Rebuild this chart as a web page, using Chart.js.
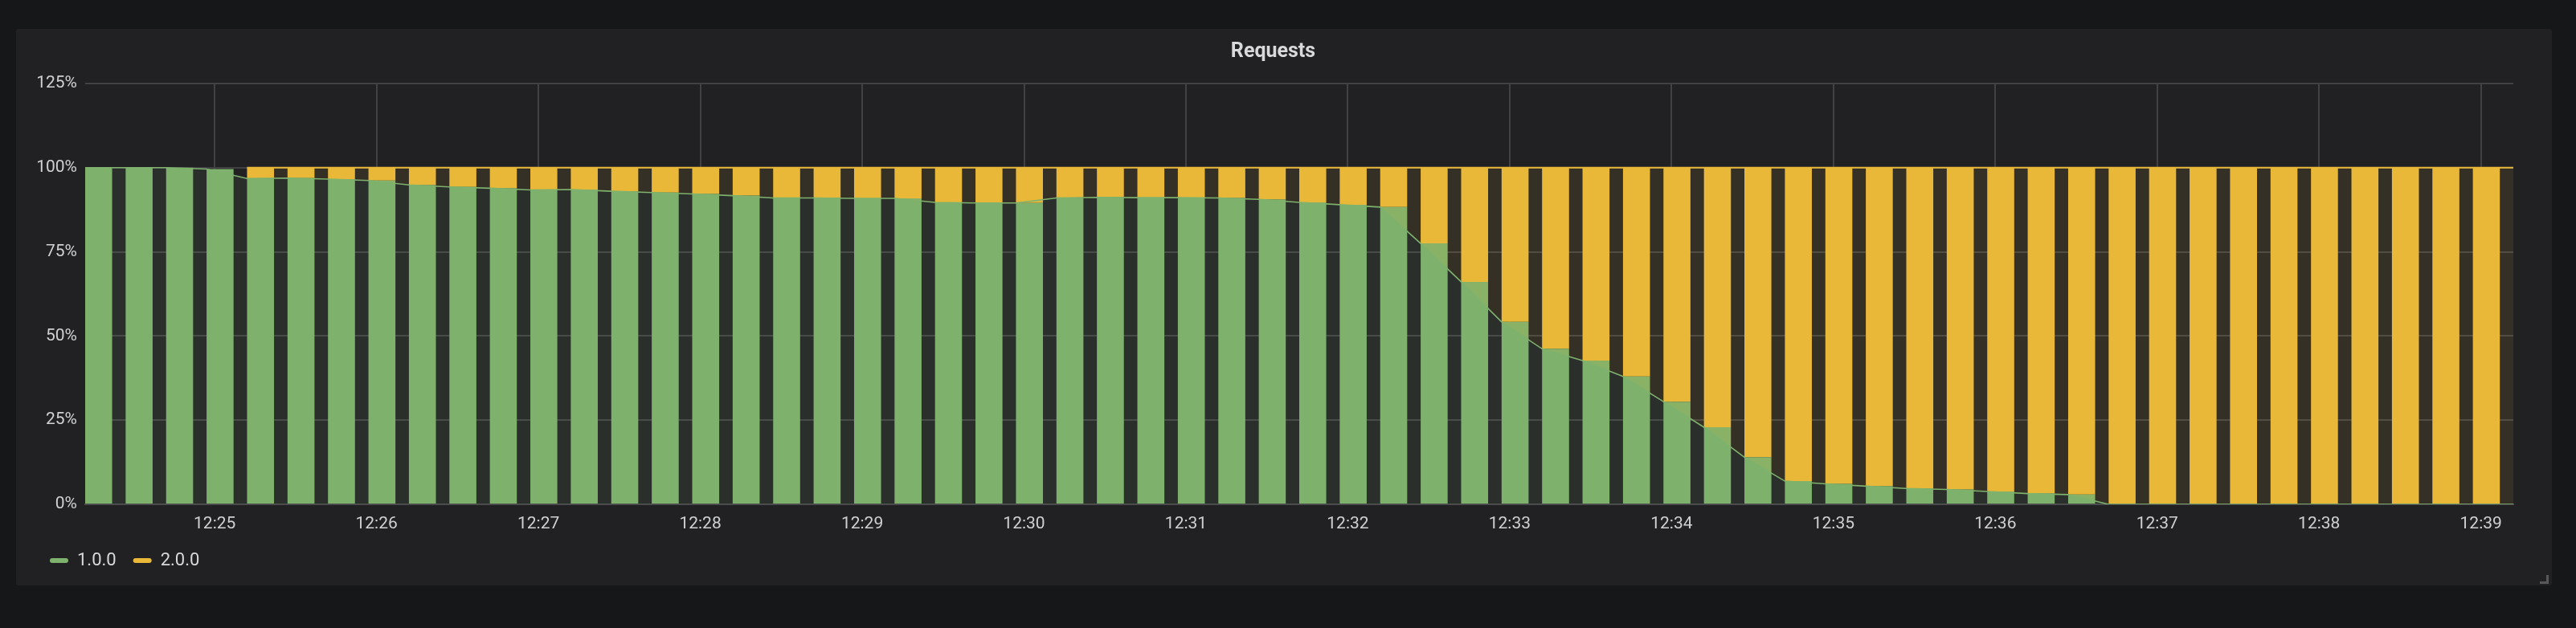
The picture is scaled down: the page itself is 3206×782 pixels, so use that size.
<!DOCTYPE html>
<html><head><meta charset="utf-8">
<script src="https://cdn.jsdelivr.net/npm/chart.js@4/dist/chart.umd.min.js"></script>
<style>
html,body{margin:0;padding:0;background:#161719;width:3206px;height:782px;overflow:hidden;}
#panel{position:absolute;left:20px;top:36px;width:3156px;height:693px;background:#212124;border-radius:3px;}
#wrap{position:absolute;left:0;top:0;width:3156px;height:693px;}
#corner{position:absolute;right:4px;bottom:2px;width:8px;height:8px;border-right:3px solid #58585a;border-bottom:3px solid #58585a;}
</style></head><body>
<div id="panel"><div id="wrap"><canvas id="c"></canvas></div><div id="corner"></div></div>
<script>
// ---- data ----
const times = [
 '12:24:12','12:24:27','12:24:42','12:24:57',
 '12:25:12','12:25:27','12:25:42','12:25:57',
 '12:26:12','12:26:27','12:26:42','12:26:57',
 '12:27:12','12:27:27','12:27:42','12:27:57',
 '12:28:12','12:28:27','12:28:42','12:28:57',
 '12:29:12','12:29:27','12:29:42','12:29:57',
 '12:30:12','12:30:27','12:30:42','12:30:57',
 '12:31:12','12:31:27','12:31:42','12:31:57',
 '12:32:12','12:32:27','12:32:42','12:32:57',
 '12:33:12','12:33:27','12:33:42','12:33:57',
 '12:34:12','12:34:27','12:34:42','12:34:57',
 '12:35:12','12:35:27','12:35:42','12:35:57',
 '12:36:12','12:36:27','12:36:42','12:36:57',
 '12:37:12','12:37:27','12:37:42','12:37:57',
 '12:38:12','12:38:27','12:38:42','12:38:57',
 '12:39:12'
];
const v100 = [
 100,100,100,99.6,96.8,96.9,96.6,96.2,94.9,94.3,
 93.9,93.4,93.5,93.0,92.6,92.2,91.7,91.0,91.0,90.9,
 90.9,89.7,89.5,89.5,91.0,91.2,91.1,91.1,91.0,90.6,
 89.7,89.0,88.3,77.5,66.1,54.2,46.2,42.7,38.0,30.5,
 22.9,14.0,6.9,6.1,5.4,4.7,4.4,3.8,3.2,2.9,
 0,0,0,0,0,0,0,0,0,0,0
];
const v200 = [
 null,null,null,null,3.2,3.1,3.4,3.8,5.1,5.7,
 6.1,6.6,6.5,7.0,7.4,7.8,8.3,9.0,9.0,9.1,
 9.1,10.3,10.5,10.5,9.0,8.8,8.9,8.9,9.0,9.4,
 10.3,11.0,11.7,22.5,33.9,45.8,53.8,57.3,62.0,69.5,
 77.1,86.0,93.1,93.9,94.6,95.3,95.6,96.2,96.8,97.1,
 100,100,100,100,100,100,100,100,100,100,100
];
const seriesNames = ['1.0.0', '2.0.0'];
const xTickLabels = ['12:25','12:26','12:27','12:28','12:29','12:30','12:31','12:32','12:33','12:34','12:35','12:36','12:37','12:38','12:39'];
const yTickValues = [0, 25, 50, 75, 100, 125];

// ---- helpers ----
const toSec = s => { const p = s.split(':').map(Number); return p[0]*3600 + p[1]*60 + (p[2]||0); };
const xs = times.map(toSec);
const pts = arr => arr.map((v, i) => ({x: xs[i], y: v}));
const green = '#7eb26d', yellow = '#eab839';
const greenFill = 'rgba(126,178,109,0.1)', yellowFill = 'rgba(234,184,57,0.1)';
const gridColor = '#414144';

Chart.defaults.font.family = 'Roboto, "Noto Sans", sans-serif';

const leftAlignBars = {
  id: 'leftAlignBars',
  afterDatasetsUpdate(chart) {
    chart.data.datasets.forEach((ds, i) => {
      if (ds.type !== 'bar') return;
      chart.getDatasetMeta(i).data.forEach(el => { el.x += el.width / 2; });
    });
  }
};

new Chart(document.getElementById('c'), {
  type: 'line',
  data: {
    datasets: [
      { type: 'line', label: seriesNames[0] + ' line', data: pts(v100), stack: 'lines', order: 0,
        borderColor: green, borderWidth: 1.6, backgroundColor: greenFill, fill: 'origin',
        pointRadius: 0, tension: 0, spanGaps: false },
      { type: 'line', label: seriesNames[1] + ' line', data: pts(v200), stack: 'lines', order: 0,
        borderColor: yellow, borderWidth: 2, backgroundColor: yellowFill, fill: '-1',
        pointRadius: 0, tension: 0, spanGaps: false },
      { type: 'bar', label: seriesNames[0], data: pts(v100), stack: 'bars', order: 1,
        backgroundColor: green, borderColor: green, borderWidth: 0, grouped: false,
        categoryPercentage: 1, barPercentage: 2/3, clip: 0 },
      { type: 'bar', label: seriesNames[1], data: pts(v200), stack: 'bars', order: 1,
        backgroundColor: yellow, borderColor: yellow, borderWidth: 0, grouped: false,
        categoryPercentage: 1, barPercentage: 2/3, clip: 0 }
    ]
  },
  options: {
    responsive: true,
    maintainAspectRatio: false,
    animation: false,
    layout: { padding: { left: 21, right: 48, top: 0, bottom: 10 } },
    plugins: {
      tooltip: { enabled: false },
      title: { display: true, text: 'Requests', color: '#d8d9da',
        font: { size: 25, weight: 'bold' }, padding: { top: 14, bottom: 24 } },
      legend: {
        display: true, position: 'bottom', align: 'start',
        labels: {
          color: '#d8d9da', font: { size: 22 }, boxWidth: 23, boxHeight: 6, padding: 21,
          useBorderRadius: true, borderRadius: 3,
          filter: (item) => item.datasetIndex >= 2
        }
      }
    },
    scales: {
      x: {
        type: 'linear', offset: false, stacked: false,
        min: xs[0], max: xs[xs.length - 1],
        afterBuildTicks: (s) => { s.ticks = xTickLabels.map(l => ({ value: toSec(l) })); },
        afterFit: (s) => { s.height = 38; },
        ticks: { autoSkip: false, maxRotation: 0, padding: 12, color: '#cfd0d2', font: { size: 21 },
          callback: (v) => { const i = xTickLabels.findIndex(l => toSec(l) === v); return i >= 0 ? xTickLabels[i] : ''; } },
        grid: { color: gridColor, lineWidth: 2, drawTicks: false, offset: false },
        border: { display: true, color: '#48484b', width: 2 }
      },
      y: {
        type: 'linear', stacked: true, min: 0, max: 125,
        afterBuildTicks: (s) => { s.ticks = yTickValues.map(v => ({ value: v })); },
        afterFit: (s) => { s.width = 65; },
        ticks: { padding: 10, color: '#cfd0d2', font: { size: 21 }, callback: (v) => v + '%' },
        grid: { color: gridColor, lineWidth: 2, drawTicks: false },
        border: { display: false }
      }
    }
  },
  plugins: [leftAlignBars]
});
</script>
</body></html>
